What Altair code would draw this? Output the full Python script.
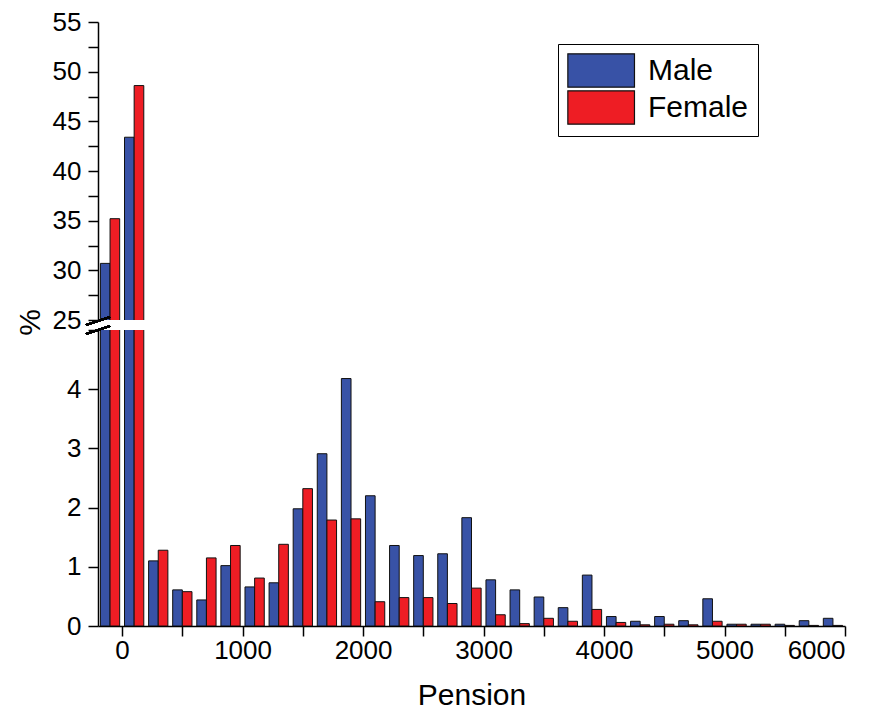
import altair as alt
import pandas as pd

# bin centres (pension) and percentages
pension = [-100, 100, 300, 500, 700, 900, 1100, 1300, 1500, 1700, 1900, 2100, 2300,
           2500, 2700, 2900, 3100, 3300, 3500, 3700, 3900, 4100, 4300, 4500, 4700,
           4900, 5100, 5300, 5500, 5700, 5900]
male = [30.7, 43.4, 1.10, 0.61, 0.44, 1.02, 0.66, 0.73, 1.98, 2.91, 4.18, 2.20, 1.36,
        1.19, 1.22, 1.83, 0.78, 0.61, 0.49, 0.31, 0.86, 0.16, 0.08, 0.16, 0.09,
        0.46, 0.03, 0.03, 0.03, 0.09, 0.13]
female = [35.2, 48.6, 1.28, 0.58, 1.15, 1.36, 0.81, 1.38, 2.32, 1.79, 1.81, 0.41, 0.48,
          0.48, 0.38, 0.64, 0.19, 0.04, 0.13, 0.08, 0.28, 0.06, 0.02, 0.03, 0.02,
          0.08, 0.03, 0.03, 0.01, 0.01, 0.01]
groups = ["Male", "Female"]
colors = ["#3852A6", "#EE1D24"]

rows = []
for p, m, f in zip(pension, male, female):
    rows.append({"pension": p, "sex": "Male", "pct": m})
    rows.append({"pension": p, "sex": "Female", "pct": f})
df = pd.DataFrame(rows)

BW = 80  # half-group width in pension units
FONT = "Liberation Sans"
W = 747

color = alt.Color(
    "sex:N",
    scale=alt.Scale(domain=groups, range=colors),
    legend=alt.Legend(
        title=None, orient="none", legendX=460, legendY=22,
        symbolType="M-1,-1H3V1H-1Z", symbolSize=1110,
        symbolStrokeColor="#111", symbolStrokeWidth=1.2, symbolOpacity=1,
        labelFont=FONT, labelFontSize=30, labelColor="#000",
        labelOffset=46, rowPadding=-3, padding=9,
        strokeColor="#000", fillColor="#fff", cornerRadius=0,
    ),
)

base = alt.Chart(df).transform_calculate(
    x0=f"datum.pension + (datum.sex == 'Male' ? -{BW} : 0)",
    x1=f"datum.pension + (datum.sex == 'Male' ? 0 : {BW})",
)

xscale = alt.Scale(domain=[-200, 6000], nice=False, zero=False)

upper_bars = base.mark_bar(clip=True, stroke="#111", strokeWidth=1, opacity=1).encode(
    x=alt.X("x0:Q", scale=xscale, axis=None),
    x2="x1:Q",
    y=alt.Y("pct:Q", scale=alt.Scale(domain=[25, 55], nice=False, zero=False),
            axis=alt.Axis(values=[25 + 2.5 * i for i in range(13)], format="d",
                          labelExpr="datum.value % 5 == 0 ? datum.label : ''",
                          title=None, grid=False, tickSize=10, tickWidth=1.5,
                          domainWidth=1.5, domainColor="#000", tickColor="#000",
                          labelFont=FONT, labelFontSize=26, labelColor="#000",
                          labelPadding=7)),
    y2=alt.datum(0),
    color=color,
)
brk_up = alt.Chart(df).mark_rule(color="#000", strokeWidth=1.5).encode(
    x=alt.value(-12), x2=alt.value(12), y=alt.value(303), y2=alt.value(295))
upper = alt.layer(upper_bars, brk_up).properties(width=W, height=298)

lower_bars = base.mark_bar(clip=True, stroke="#111", strokeWidth=1, opacity=1).encode(
    x=alt.X("x0:Q", scale=xscale,
            axis=alt.Axis(values=[500 * i for i in range(13)], format="d",
                          labelExpr="datum.value % 1000 == 0 ? datum.label : ''",
                          title="Pension", grid=False, tickSize=10, tickWidth=1.5,
                          domainWidth=1.5, domainColor="#000", tickColor="#000",
                          labelFont=FONT, labelFontSize=26, labelColor="#000",
                          labelPadding=1, titleFont=FONT, titleFontSize=30,
                          titleFontWeight="normal", titleColor="#000",
                          titlePadding=17)),
    x2="x1:Q",
    y=alt.Y("pct:Q", scale=alt.Scale(domain=[0, 5], nice=False),
            axis=alt.Axis(values=[0.5 * i for i in range(11)], format="d",
                          labelExpr="datum.value % 1 == 0 && datum.value < 5 ? datum.label : ''",
                          title="%", titleX=-68, titleY=-8, titleAngle=-90,
                          titleAlign="center", titleBaseline="middle",
                          titleFont=FONT, titleFontSize=30, titleFontWeight="normal",
                          titleColor="#000",
                          grid=False, tickSize=10, tickWidth=1.5,
                          domainWidth=1.5, domainColor="#000", tickColor="#000",
                          labelFont=FONT, labelFontSize=26, labelColor="#000",
                          labelPadding=7)),
    y2=alt.datum(0),
    color=color,
)
brk_lo = alt.Chart(df).mark_rule(color="#000", strokeWidth=1.5).encode(
    x=alt.value(-12), x2=alt.value(12), y=alt.value(4), y2=alt.value(-4))
lower = alt.layer(lower_bars, brk_lo).properties(width=W, height=296)

chart = alt.vconcat(upper, lower, spacing=10, bounds="flush").properties(
    padding={"left": 7, "top": 1, "right": 5, "bottom": 5}
).configure_view(stroke=None)

chart.save("out.html", embed_options={"renderer": "svg", "actions": False})
